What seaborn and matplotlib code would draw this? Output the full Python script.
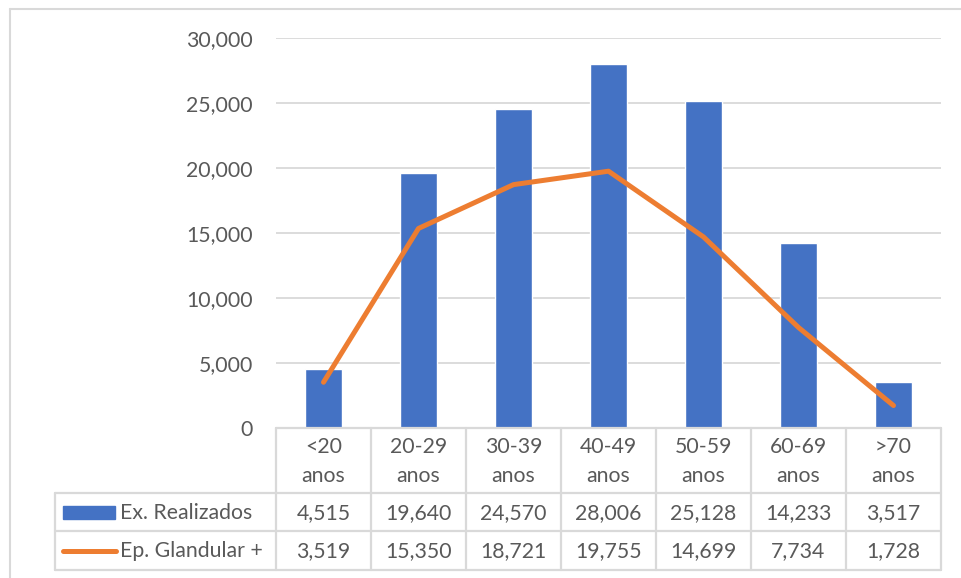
import numpy as np
import pandas as pd
import matplotlib
matplotlib.use("Agg")
import matplotlib.pyplot as plt
import matplotlib.transforms as mtransforms
from matplotlib.lines import Line2D
from matplotlib.patches import Rectangle
import seaborn as sns

# Age groups and series values
faixas = ["<20\nanos", "20-29\nanos", "30-39\nanos", "40-49\nanos",
          "50-59\nanos", "60-69\nanos", ">70\nanos"]
ex_realizados = [4515, 19640, 24570, 28006, 25128, 14233, 3517]
ep_glandular = [3519, 15350, 18721, 19755, 14699, 7734, 1728]
serie_nomes = ["Ex. Realizados", "Ep. Glandular +"]
yticks = [0, 5000, 10000, 15000, 20000, 25000, 30000]

BLUE = "#4472c4"
ORANGE = "#ed7d31"
GRID = "#d9d9d9"
TEXT = "#595959"
FS = 15.3

sns.set_theme(style="white")
plt.rcParams["font.family"] = ["Lato", "DejaVu Sans"]

W, H = 961, 578
fig = plt.figure(figsize=(W / 100, H / 100), dpi=100)

def fx(px):
    return px / W

def fy(py):
    return 1 - py / H

ax = fig.add_axes([fx(276), fy(428), fx(941) - fx(276), fy(38) - fy(428)])

df = pd.DataFrame({"faixa": faixas, "ex": ex_realizados, "ep": ep_glandular})

sns.barplot(data=df, x="faixa", y="ex", order=faixas, color=BLUE,
            width=0.39, saturation=1, ax=ax, zorder=2)
sns.lineplot(data=df, x="faixa", y="ep", color=ORANGE, linewidth=3.6,
             ax=ax, zorder=3, solid_capstyle="round")

ax.set_xlim(-0.5, len(faixas) - 0.5)
ax.set_ylim(0, 30000)
ax.set_yticks(yticks)
ax.set_yticklabels([f"{v:,}" for v in yticks], color=TEXT, fontsize=FS)
ax.tick_params(axis="y", length=0, pad=16.5)
ax.set_xticks([])
ax.set_xlabel("")
ax.set_ylabel("")
for s in ax.spines.values():
    s.set_visible(False)
ax.grid(axis="y", color=GRID, linewidth=1.3, zorder=0)
ax.set_axisbelow(True)

# Data table below the plot
blend = mtransforms.blended_transform_factory(ax.transData, fig.transFigure)
lw = 1.6

def hline(y, x0, x1):
    fig.add_artist(Line2D([fx(x0), fx(x1)], [fy(y), fy(y)], color=GRID,
                          linewidth=lw, transform=fig.transFigure))

def vline(x, y0, y1):
    fig.add_artist(Line2D([fx(x), fx(x)], [fy(y0), fy(y1)], color=GRID,
                          linewidth=lw, transform=fig.transFigure))

hline(428, 276, 941)
hline(493, 55, 941)
hline(531, 55, 941)
hline(570, 55, 941)
vline(55, 493, 570)
for i in range(len(faixas) + 1):
    xd = i - 0.5
    fig.add_artist(Line2D([xd, xd], [fy(428), fy(570)], color=GRID,
                          linewidth=lw, transform=blend))

for i, lab in enumerate(faixas):
    top, bottom = lab.split("\n")
    fig.text(i, fy(447), top, transform=blend, ha="center", va="center",
             color=TEXT, fontsize=FS)
    fig.text(i, fy(476), bottom, transform=blend, ha="center", va="center",
             color=TEXT, fontsize=FS)
    fig.text(i, fy(513), f"{ex_realizados[i]:,}", transform=blend,
             ha="center", va="center", color=TEXT, fontsize=FS)
    fig.text(i, fy(551), f"{ep_glandular[i]:,}", transform=blend,
             ha="center", va="center", color=TEXT, fontsize=FS)

# Legend keys inside the table
fig.add_artist(Rectangle((fx(63), fy(519)), fx(115) - fx(63), fy(506) - fy(519),
                         color=BLUE, transform=fig.transFigure))
fig.add_artist(Line2D([fx(63), fx(116)], [fy(551), fy(551)], color=ORANGE,
                      linewidth=3.6, solid_capstyle="round",
                      transform=fig.transFigure))
fig.text(fx(120), fy(513), serie_nomes[0], ha="left", va="center",
         color=TEXT, fontsize=FS)
fig.text(fx(120), fy(551), serie_nomes[1], ha="left", va="center",
         color=TEXT, fontsize=FS)

# Outer frame edges
fig.add_artist(Line2D([fx(10), fx(961)], [fy(8.5), fy(8.5)], color=GRID,
                      linewidth=1.5, transform=fig.transFigure))
fig.add_artist(Line2D([fx(10), fx(10)], [fy(8.5), fy(578)], color=GRID,
                      linewidth=1.5, transform=fig.transFigure))

fig.savefig("out.png", dpi=100)
